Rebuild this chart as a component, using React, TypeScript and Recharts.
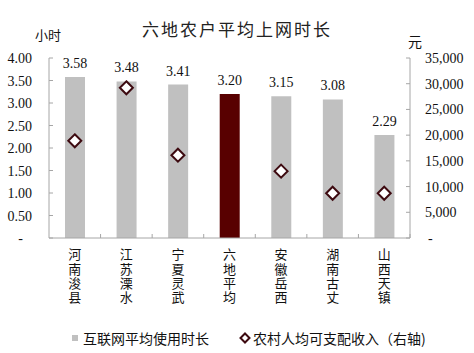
import React from "react";
import { ComposedChart, Bar, Line, XAxis, YAxis, Cell, LabelList } from "recharts";

const regions = ["河南浚县", "江苏溧水", "宁夏灵武", "六地平均", "安徽岳西", "湖南古丈", "山西天镇"];
const hours = [3.58, 3.48, 3.41, 3.2, 3.15, 3.08, 2.29];
const income: (number | null)[] = [18900, 29200, 16100, null, 13000, 8700, 8700];
const hourTicks = [0, 0.5, 1, 1.5, 2, 2.5, 3, 3.5, 4];
const incomeTicks = [0, 5000, 10000, 15000, 20000, 25000, 30000, 35000];

const data = regions.map((name, i) => ({ name, hours: hours[i], income: income[i] }));

const AXIS = "#a6a6a6";
const GRAY = "#c0c0c0";
const DARK = "#580000";
const CJK = "'Noto Sans CJK SC', sans-serif";
const NUM = "'Liberation Serif', serif";

const LeftTick = (props: any) => {
  const { x, y, payload } = props;
  const v = payload.value as number;
  return (
    <g>
      <line x1={x + 17} x2={x + 21} y1={y} y2={y} stroke={AXIS} />
      <text x={v === 0 ? x - 9 : x} y={y} dy={5} textAnchor="end" fontFamily={NUM} fontSize={14} fill="#111">
        {v === 0 ? "-" : v.toFixed(2)}
      </text>
    </g>
  );
};

const RightTick = (props: any) => {
  const { x, y, payload } = props;
  const v = payload.value as number;
  return (
    <g>
      <line x1={x - 15} x2={x - 19} y1={y} y2={y} stroke={AXIS} />
      <text x={v === 0 ? x + 3 : x} y={y} dy={5} textAnchor="start" fontFamily={NUM} fontSize={14} fill="#111">
        {v === 0 ? "-" : v.toLocaleString("en-US")}
      </text>
    </g>
  );
};

const band = 361 / 7;

// vertical category names (top-to-bottom writing)
const CatTick = (props: any) => {
  const { x, y, payload } = props;
  return (
    <g>
      <line x1={x + band / 2} x2={x + band / 2} y1={y} y2={y - 4} stroke={AXIS} />
      <text
        x={x}
        y={y + 10}
        fontFamily={CJK}
        fontSize={13}
        letterSpacing={1.3}
        fill="#111"
        style={{ writingMode: "vertical-rl", textOrientation: "upright" } as any}
      >
        {payload.value}
      </text>
    </g>
  );
};

const Diamond = (props: any) => {
  const { cx, cy, value } = props;
  if (value == null || cx == null || cy == null) return <g key={props.index} />;
  const r = 6.5;
  return (
    <path
      key={props.index}
      d={`M${cx},${cy - r}L${cx + r},${cy}L${cx},${cy + r}L${cx - r},${cy}Z`}
      fill="#fff"
      stroke="#3d0a10"
      strokeWidth={2}
    />
  );
};

export default function App() {
  return (
    <div style={{ position: "absolute", left: 0, top: 0, width: 474, height: 353, background: "#fff" }}>
      <div style={{ position: "absolute", left: 0, width: 474, top: 16, textAlign: "center", fontFamily: CJK, fontSize: 17, letterSpacing: 2, color: "#222" }}>
        六地农户平均上网时长
      </div>
      <div style={{ position: "absolute", left: 35, top: 25, fontFamily: CJK, fontSize: 13, color: "#111" }}>小时</div>
      <div style={{ position: "absolute", left: 408, top: 31, fontFamily: CJK, fontSize: 14, color: "#111" }}>元</div>
      <ComposedChart
        width={474}
        height={353}
        data={data}
        margin={{ top: 58, right: 0, left: 0, bottom: 45 }}
        style={{ position: "absolute", left: 0, top: 0 }}
      >
        <XAxis
          dataKey="name"
          height={70}
          axisLine={{ stroke: AXIS }}
          tickLine={false}
          tickSize={0}
          tickMargin={0}
          interval={0}
          tick={<CatTick />}
        />
        <YAxis
          yAxisId="left"
          width={49}
          domain={[0, 4]}
          ticks={hourTicks}
          interval={0}
          axisLine={{ stroke: AXIS }}
          tickLine={false}
          tickSize={0}
          tickMargin={17}
          tick={<LeftTick />}
        />
        <YAxis
          yAxisId="right"
          orientation="right"
          width={64}
          domain={[0, 35000]}
          ticks={incomeTicks}
          interval={0}
          axisLine={{ stroke: AXIS }}
          tickLine={false}
          tickSize={0}
          tickMargin={15}
          tick={<RightTick />}
        />
        <Bar yAxisId="left" dataKey="hours" barSize={20} isAnimationActive={false}>
          {data.map((d, i) => (
            <Cell key={i} fill={d.name === "六地平均" ? DARK : GRAY} />
          ))}
          <LabelList
            dataKey="hours"
            position="top"
            offset={9}
            formatter={(v: any) => Number(v).toFixed(2)}
            style={{ fontFamily: NUM, fontSize: 14, fill: "#111" }}
          />
        </Bar>
        <Line
          yAxisId="right"
          dataKey="income"
          stroke="none"
          connectNulls={false}
          dot={<Diamond />}
          activeDot={false}
          isAnimationActive={false}
        />
      </ComposedChart>
      <div style={{ position: "absolute", left: 72, top: 328, display: "flex", alignItems: "center", fontFamily: CJK, fontSize: 14, color: "#111" }}>
        <span style={{ display: "inline-block", width: 6, height: 6, background: GRAY, marginRight: 5 }} />
        <span>互联网平均使用时长</span>
        <svg width={12} height={12} style={{ marginLeft: 30, marginRight: 2 }}>
          <path d="M6,1.5L10.5,6L6,10.5L1.5,6Z" fill="#fff" stroke="#3d0a10" strokeWidth={2} />
        </svg>
        <span>农村人均可支配收入（右轴)</span>
      </div>
    </div>
  );
}
